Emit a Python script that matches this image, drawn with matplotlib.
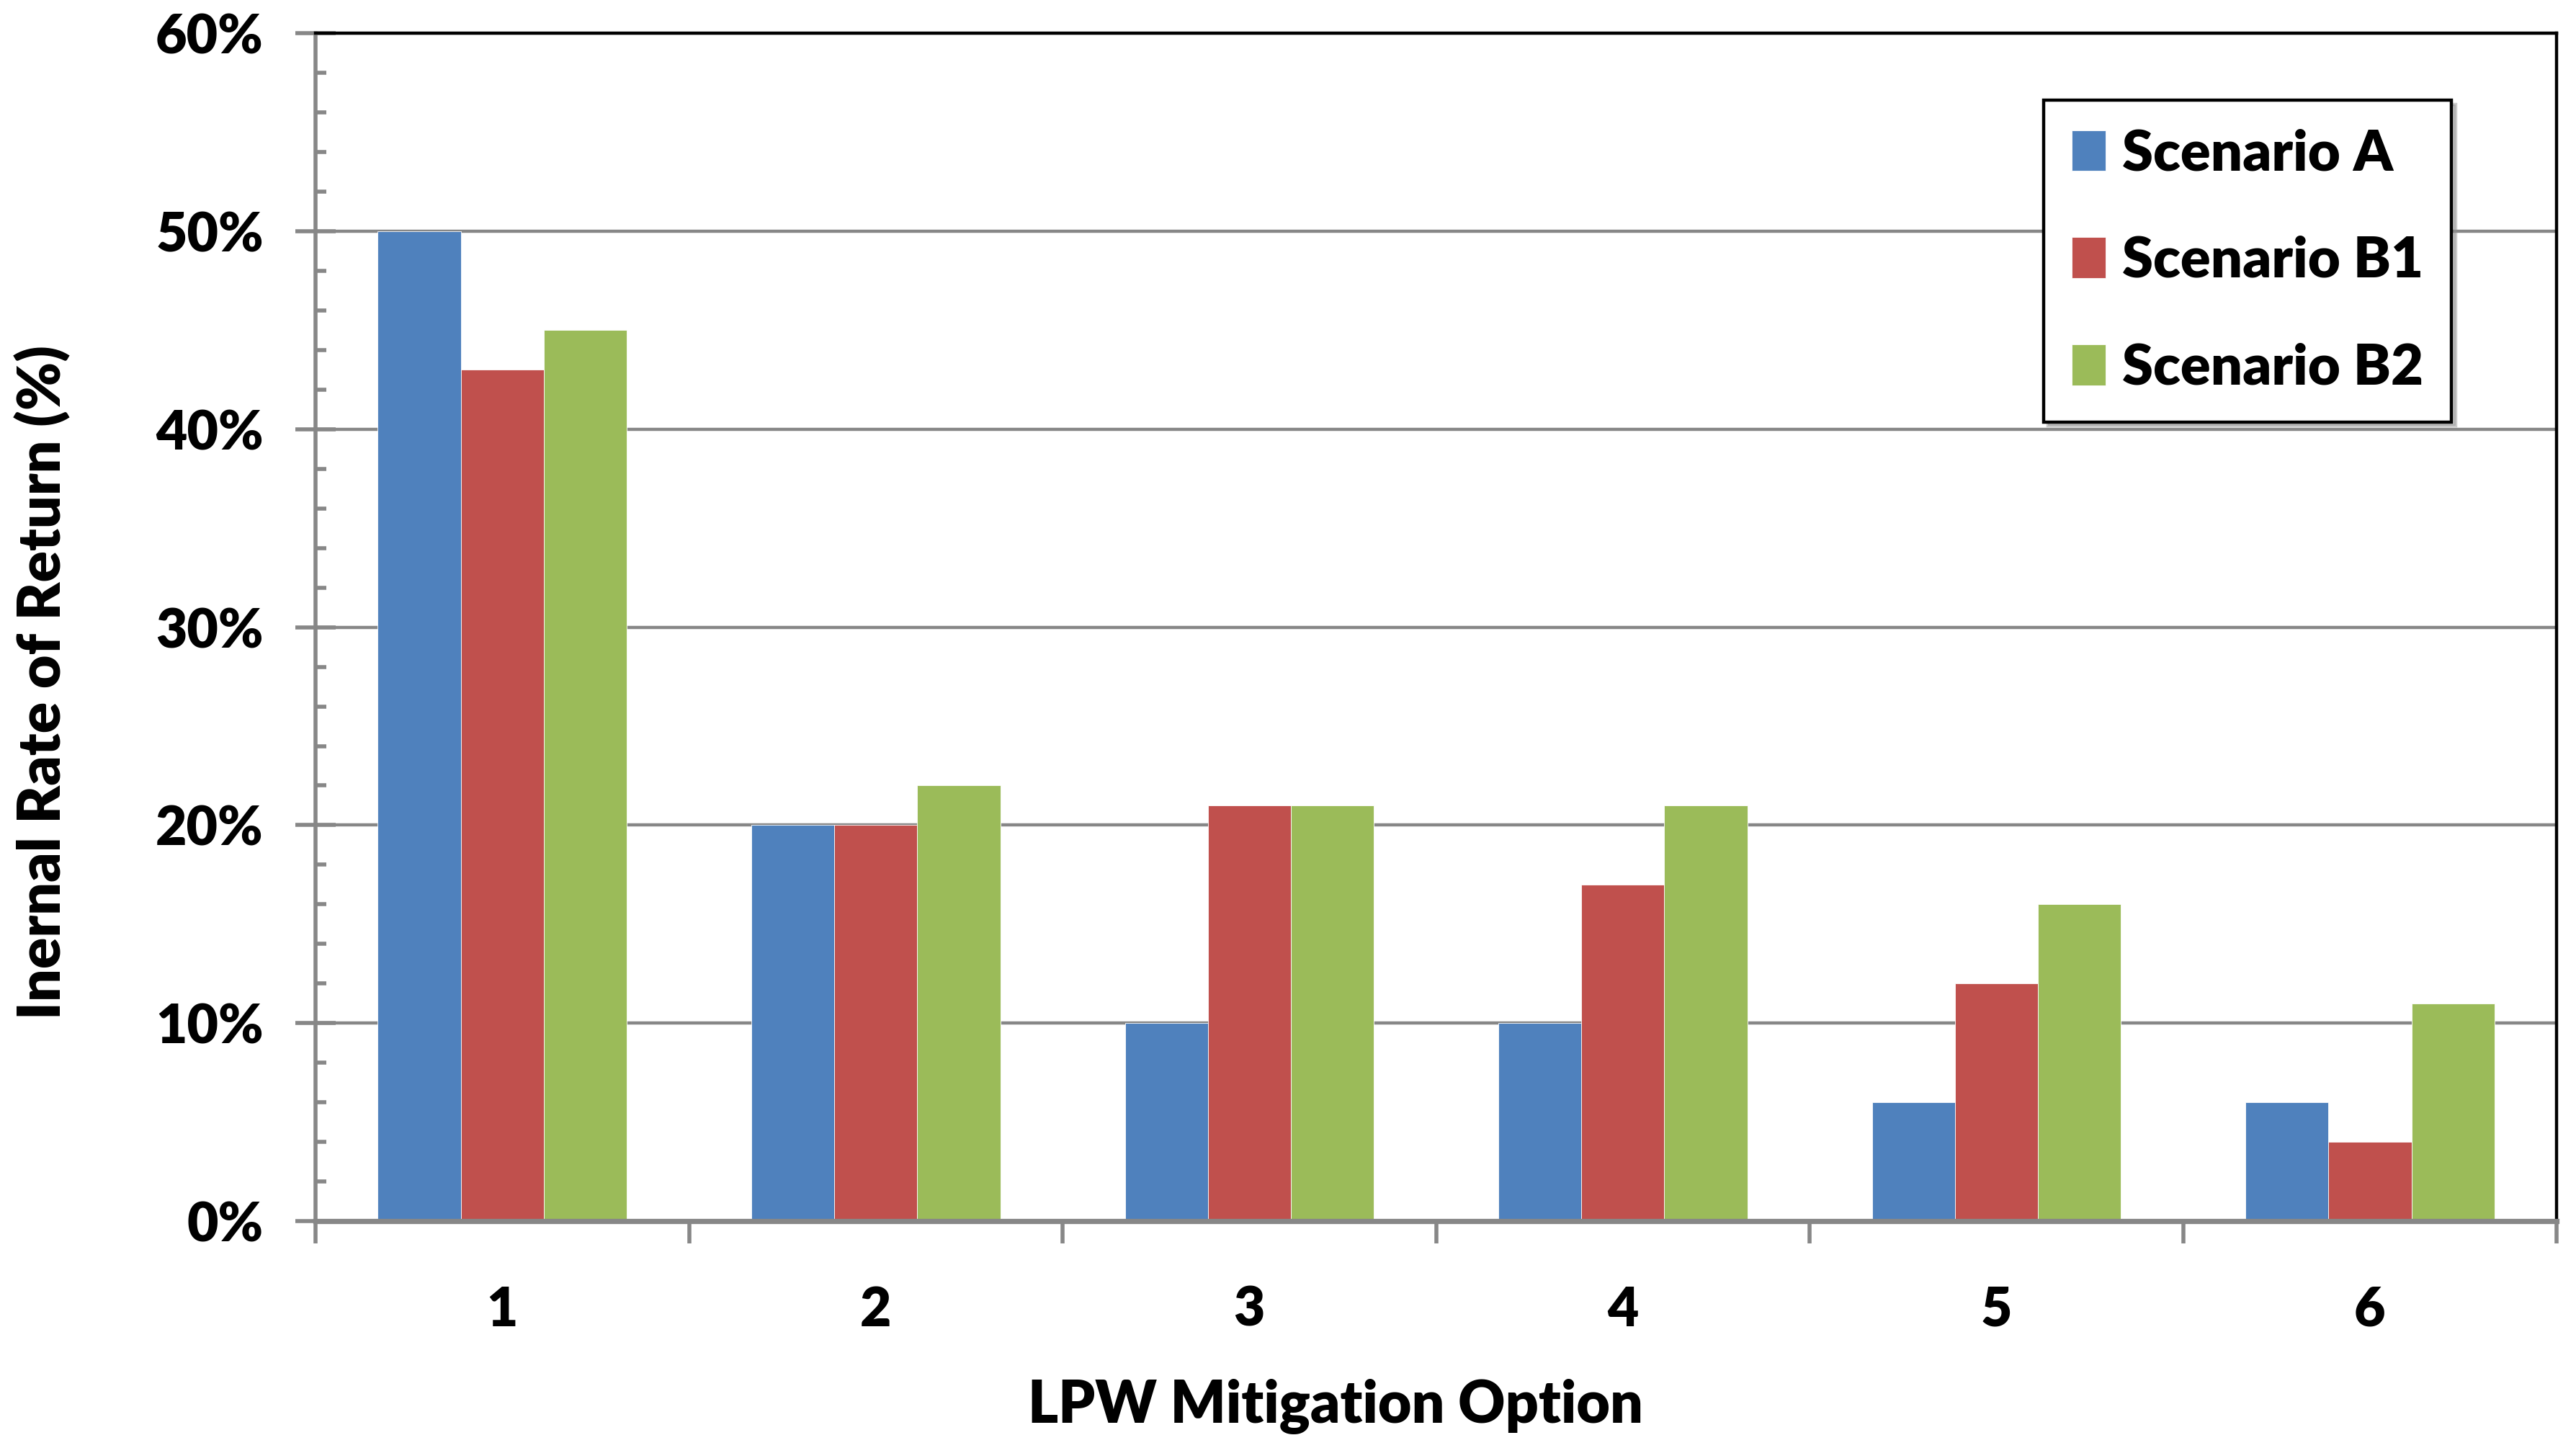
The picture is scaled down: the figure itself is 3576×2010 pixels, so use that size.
import matplotlib
matplotlib.use("Agg")
import matplotlib.pyplot as plt
from matplotlib.ticker import MultipleLocator, FuncFormatter
import numpy as np

categories = ["1", "2", "3", "4", "5", "6"]
series_names = ["Scenario A", "Scenario B1", "Scenario B2"]
scenario_a = [50, 20, 10, 10, 6, 6]
scenario_b1 = [43, 20, 21, 17, 12, 4]
scenario_b2 = [45, 22, 21, 21, 16, 11]
colors = ["#4F81BD", "#C0504D", "#9BBB59"]

plt.rcParams['font.family'] = ['Lato', 'DejaVu Sans']
W = 'heavy'
plt.rcParams['font.weight'] = W

fig = plt.figure(figsize=(17.88, 10.05), dpi=200)
ax = fig.add_axes([0.1225, 0.1567, 0.870, 0.8203])

x = np.arange(len(categories))
bw = 1 / 4.5
for i, (vals, name, c) in enumerate(zip([scenario_a, scenario_b1, scenario_b2], series_names, colors)):
    ax.bar(x + (i - 1) * bw, vals, width=bw, color=c, label=name, zorder=3,
           edgecolor='white', linewidth=0.3)

ax.set_xlim(-0.5, len(categories) - 0.5)
ax.set_ylim(0, 60)
ax.yaxis.set_major_locator(MultipleLocator(10))
ax.yaxis.set_minor_locator(MultipleLocator(2))
ax.yaxis.set_major_formatter(FuncFormatter(lambda v, p: f"{int(round(v))}%"))
ax.set_xticks(x)
ax.set_xticklabels(categories)
ax.set_xticks(np.arange(-0.5, len(categories)), minor=True)

ax.grid(axis='y', which='major', color='#878787', linewidth=1.6, zorder=1)
ax.set_axisbelow(True)

for s in ['top', 'right']:
    ax.spines[s].set_color('black')
    ax.spines[s].set_linewidth(1.6)
ax.spines['left'].set_color('#878787')
ax.spines['left'].set_linewidth(2.0)
ax.spines['bottom'].set_color('#878787')
ax.spines['bottom'].set_linewidth(2.6)
ax.spines['bottom'].set_zorder(4)

ax.tick_params(axis='y', which='major', direction='inout', length=20, width=2.0,
               color='#878787', labelsize=27, pad=16)
ax.tick_params(axis='y', which='minor', direction='in', length=5.5, width=2.0, color='#878787')
ax.tick_params(axis='x', which='major', length=0, labelsize=27, pad=32)
ax.tick_params(axis='x', which='minor', direction='out', length=11, width=2.0, color='#878787')
for lab in ax.get_xticklabels() + ax.get_yticklabels():
    lab.set_fontweight(W)

fig.text(0.0165, 0.529, "Inernal Rate of Return (%)", rotation=90, ha='center', va='center',
         fontsize=29, fontweight=W)
fig.text(0.5185, 0.0284, "LPW Mitigation Option", ha='center', va='center',
         fontsize=29, fontweight=W)

leg = ax.legend(loc='upper right', bbox_to_anchor=(0.953, 0.9436), fontsize=28,
                frameon=True, fancybox=False, edgecolor='black', framealpha=1,
                shadow={'color': '0.55', 'alpha': 0.45}, handlelength=0.6, handleheight=0.75,
                handletextpad=0.3, labelspacing=1.0, borderpad=0.5, borderaxespad=0)
leg.get_frame().set_linewidth(1.6)
for t in leg.get_texts():
    t.set_fontweight(W)

fig.savefig("out.png", dpi=200)
